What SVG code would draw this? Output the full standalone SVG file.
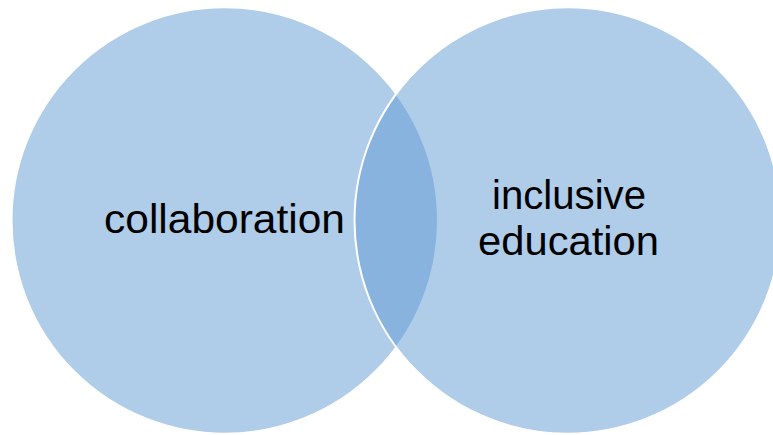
<svg xmlns="http://www.w3.org/2000/svg" width="773" height="435" viewBox="0 0 773 435">
  <style>
    .set { fill: #5F99D3; fill-opacity: 0.5; stroke: #FFFFFF; stroke-width: 2; }
    .label { font-family: "Liberation Sans", Arial, sans-serif; font-size: 40px; fill: #000000; text-anchor: middle; }
  </style>
  <rect width="773" height="435" fill="#FFFFFF"/>
  <g id="node-collaboration">
    <circle class="set" cx="224.75" cy="220.5" r="213.25"/>
    <text class="label" x="224.5" y="233" textLength="241" lengthAdjust="spacingAndGlyphs">collaboration</text>
  </g>
  <g id="node-inclusive-education">
    <circle class="set" cx="567.75" cy="220.5" r="213.25"/>
    <text class="label" x="569" y="209" textLength="154" lengthAdjust="spacingAndGlyphs">inclusive</text>
    <text class="label" x="568.5" y="255" textLength="181" lengthAdjust="spacingAndGlyphs">education</text>
  </g>
  <g id="connectors"/>
</svg>
